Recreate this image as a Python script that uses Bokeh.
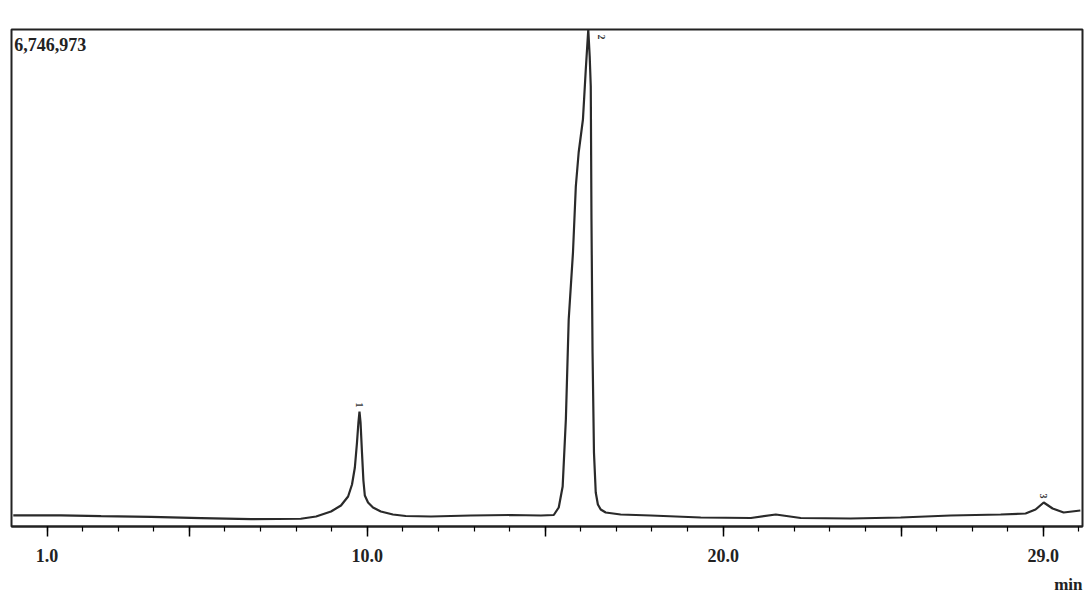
from bokeh.plotting import figure
from bokeh.models import Range1d, FixedTicker, Label, Title
from bokeh.embed import file_html
from bokeh.resources import INLINE
import math

# Retention time (min)
times = [0.05, 1.39, 2.52, 3.92, 5.33, 6.73, 8.13, 8.56, 8.98, 9.26, 9.46, 9.57, 9.65, 9.71,
         9.75, 9.78, 9.81, 9.85, 9.89, 9.93, 10.02, 10.16, 10.38, 10.72, 11.08, 11.79, 12.91,
         14.03, 14.88, 15.24, 15.38, 15.49, 15.58, 15.66, 15.78, 15.86, 15.94, 16.06, 16.14,
         16.21, 16.25, 16.28, 16.30, 16.33, 16.37, 16.42, 16.48, 16.56, 16.70, 17.12, 17.97,
         19.37, 20.78, 21.48, 22.18, 23.58, 24.99, 26.39, 27.80, 28.50, 28.78, 29.01, 29.26,
         29.57, 30.04]
# Total ion current (counts)
intensity = [150000, 150000, 140000, 130000, 115000, 100000, 105000, 135750, 203600, 285100,
             407300, 570200, 800900, 1140300, 1411800, 1561100, 1411800, 1004600, 624500,
             420800, 325800, 257900, 203600, 162900, 142500, 135750, 149300, 156100, 149300,
             156100, 257900, 543000, 1452500, 2810000, 3719600, 4615500, 5077000, 5525000,
             6203800, 6746973, 6380000, 5973000, 4167500, 2362000, 1004600, 461600, 298700,
             230800, 190000, 162900, 149300, 122200, 115400, 162900, 115400, 108600, 122200,
             149300, 162900, 176500, 230800, 325800, 244400, 190000, 217200]

tick_values = [1, 5, 10, 15, 20, 25, 29]
tick_labels = {1: "1.0", 5: "", 10: "10.0", 15: "", 20: "20.0", 25: "", 29: "29.0"}
minor_values = list(range(1, 31))
max_label = "6,746,973"
peak_names = ["1", "2", "3"]
peak_times = [9.78, 16.21, 29.01]
peak_heights = [1561100, 6746973, 325800]

YMAX = 6746973
PX = YMAX / 497.0  # counts per pixel
FONT = "Liberation Serif"

p = figure(width=1091, height=608, output_backend="svg", toolbar_location=None,
           x_range=Range1d(0.0, 30.1), y_range=Range1d(0, YMAX),
           y_axis_location=None, min_border_left=11, min_border_right=9,
           min_border_top=29, min_border_bottom=82)
p.grid.visible = False
p.outline_line_color = "#222222"
p.outline_line_width = 2
p.background_fill_color = "white"
p.border_fill_color = "white"

ax = p.xaxis[0]
ax.ticker = FixedTicker(ticks=tick_values, minor_ticks=minor_values)
ax.major_label_overrides = tick_labels
ax.axis_line_color = "#222222"
ax.axis_line_width = 2
ax.major_tick_out = 10
ax.major_tick_in = 0
ax.major_tick_line_width = 1.5
ax.minor_tick_out = 5
ax.minor_tick_in = 0
ax.minor_tick_line_width = 1.2
ax.major_label_standoff = 12
ax.major_label_text_font = FONT
ax.major_label_text_font_size = "18px"
ax.major_label_text_font_style = "bold"
ax.major_label_text_color = "#222222"

p.add_layout(Title(text="min", align="right", vertical_align="top", text_font=FONT,
                   text_font_size="17px", text_font_style="bold", text_color="#222222",
                   standoff=20), "below")

p.line(times, intensity, line_color="#2a2a2a", line_width=2.2)

for name, t, h in zip(peak_names, peak_times, peak_heights):
    dx = 0.38 if name == "2" else 0.0
    dy = -10 * PX if name == "2" else 4 * PX
    p.add_layout(Label(x=t + dx, y=h + dy, text=name, angle=-math.pi / 2,
                       text_font=FONT, text_font_size="10px", text_font_style="bold",
                       text_color="#333333", text_align="right", text_baseline="middle"))

p.add_layout(Label(x=0.08, y=YMAX - 8 * PX, text=max_label, text_font=FONT,
                   text_font_size="18px", text_font_style="bold", text_color="#222222",
                   text_align="left", text_baseline="top"))
p.add_layout(Label(x=30.08, y=YMAX + 5 * PX, text="TIC", text_font=FONT,
                   text_font_size="18px", text_font_style="bold", text_color="#222222",
                   text_align="right", text_baseline="bottom"))

open("out.html", "w").write(file_html(p, INLINE))
